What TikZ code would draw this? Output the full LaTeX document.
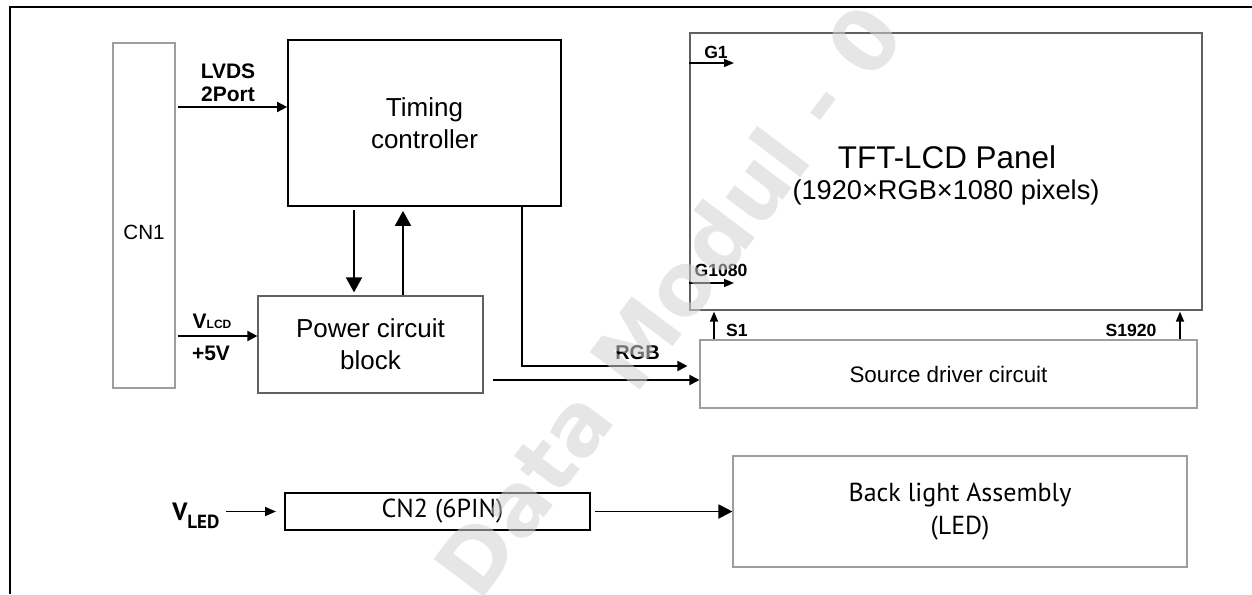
\documentclass[tikz,border=0pt]{standalone}
\usepackage{fontspec}
\setmainfont{Liberation Sans}
\newfontfamily\tahoma{PT Sans}
\newfontfamily\wmfont{DejaVu Sans}
\usetikzlibrary{arrows.meta}
\begin{document}
\begin{tikzpicture}[x=0.5pt,y=-0.5pt,
  lightbox/.style={draw=black!38, line width=0.55pt, inner sep=0pt},
  darkbox/.style={draw=black!62, line width=0.6pt, inner sep=0pt},
  blackbox/.style={draw=black, line width=0.85pt, inner sep=0pt},
  conn/.style={line width=0.9pt, -{Triangle[length=5pt,width=5pt]}},
  vconn/.style={line width=0.9pt, -{Triangle[length=7.5pt,width=8pt]}},
  sconn/.style={line width=0.8pt, -{Triangle[length=5pt,width=4pt]}},
  lbl/.style={font=\bfseries\fontsize{10.5}{11.5}\selectfont, inner sep=0pt, align=center},
  pin/.style={font=\bfseries\fontsize{8.8}{10}\selectfont, inner sep=0pt},
  txt/.style={inner sep=0pt, align=center}
]
\useasboundingbox (0,0) rectangle (1252,594);
% frame
\draw[line width=1.3pt] (10,594) coordinate (fb) -- (10,7) coordinate (fc) -- (1252,7) coordinate (fr);

% boxes
\node[lightbox, minimum width=31pt, minimum height=172.5pt] (cn1) at (144,215.5) {};
\node[txt, font=\fontsize{10.3}{12}\selectfont] (cn1t) at (144,232.5) {CN1};
\node[blackbox, minimum width=136.5pt, minimum height=83pt, align=center,
      font=\fontsize{13}{16}\selectfont] (tc) at (424.5,123) {Timing\\controller};
\node[darkbox, minimum width=112.5pt, minimum height=48.5pt, align=center,
      font=\fontsize{13}{16}\selectfont] (pw) at (370.5,344.5) {Power circuit\\block};
\node[darkbox, minimum width=256pt, minimum height=138.5pt] (tft) at (946,171.5) {};
\node[txt, font=\fontsize{15.7}{18}\selectfont] (tftt) at (947,157) {TFT-LCD Panel};
\node[txt, font=\fontsize{13.6}{16}\selectfont] (tftr) at (946,192) {(1920\texttimes RGB\texttimes 1080 pixels)};
\node[lightbox, minimum width=248.5pt, minimum height=34pt,
      font=\fontsize{11.2}{13}\selectfont] (src) at (948.5,374) {Source driver circuit};
\node[lightbox, minimum width=227pt, minimum height=55.5pt, align=center,
      font=\tahoma\fontsize{13}{16.5}\selectfont] (bl) at (960,511.5) {Back light Assembly\\(LED)};
\node[draw=black, line width=1pt, inner sep=0pt, minimum width=152.5pt, minimum height=18.5pt,
      font=\tahoma\fontsize{13}{15}\selectfont] (cn2) at (437.5,511.5) {\hspace*{5pt}CN2 (6PIN)};

% labels
\node[lbl] (lvds) at (228,83) {LVDS\\2Port};
\node[lbl, anchor=base] (vlcd) at (212,328) {V{\fontsize{6}{7}\selectfont LCD}};
\node[lbl] (p5v) at (211,353) {+5V};
\node[pin, anchor=base] (g1) at (716,58) {G1};
\node[pin, anchor=base] (g1080) at (721,276) {G1080};
\node[pin] (s1) at (737,330) {S1};
\node[pin] (s1920) at (1131,330) {S1920};
\node[lbl, font=\bfseries\fontsize{10}{12}\selectfont] (rgb) at (637.5,353) {RGB};
\node[inner sep=0pt, anchor=base west, font=\tahoma\bfseries\fontsize{12.5}{14}\selectfont] (vled) at (172,520)
  {V\raisebox{-0.32em}{\fontsize{9.5}{11}\selectfont LED}};

% coordinates for connector rows/columns
\coordinate (ylv) at (0,107);
\coordinate (ylcd) at (0,336);
\coordinate (xdn) at (354,0);
\coordinate (xup) at (403,0);
\coordinate (xrgb) at (521.7,0);
\coordinate (yrgb) at (0,366);
\coordinate (ypw) at (0,380);
\coordinate (yg1) at (0,63);
\coordinate (yg1080) at (0,283);
\coordinate (xs1) at (714,0);
\coordinate (xs1920) at (1180,0);
\coordinate (yled) at (0,511.5);
\coordinate (g1e) at (734,63);
\coordinate (g1080e) at (734,283);

% connectors
\draw[conn, shorten <=1pt] (cn1.east |- ylv) -- (tc.west |- ylv);
\draw[conn, shorten <=1pt] (cn1.east |- ylcd) -- (pw.west |- ylcd);
\draw[vconn, shorten <=1.5pt, shorten >=1.5pt] (xdn |- tc.south) -- (xdn |- pw.north);
\draw[vconn, shorten >=2pt] (xup |- pw.north) -- (xup |- tc.south);
\draw[conn, shorten >=6pt] (xrgb |- tc.south) |- (src.west |- yrgb);
\draw[conn, shorten <=4.5pt] (pw.east |- ypw) -- (src.west |- ypw);
\draw[sconn] (tft.west |- yg1) -- (g1e);
\draw[sconn] (tft.west |- yg1080) -- (g1080e);
\draw[sconn, shorten >=0.5pt] (xs1 |- src.north) -- (xs1 |- tft.south);
\draw[sconn, shorten >=0.5pt] (xs1920 |- src.north) -- (xs1920 |- tft.south);
\draw[line width=0.9pt, -{Triangle[length=5.5pt,width=4.5pt]}, shorten >=4pt] (vled.east |- yled) ++(6,0) -- (cn2.west |- yled);
\draw[line width=0.9pt, -{Triangle[length=7pt,width=7pt]}, shorten <=2pt] (cn2.east) -- (bl.west);

% watermark
\node[rotate=53, font=\wmfont\bfseries\fontsize{43}{47}\selectfont, text=black!18, text opacity=0.55, inner sep=0pt] (wm) at (668,300) {Data Modul - 0};
\end{tikzpicture}
\end{document}
